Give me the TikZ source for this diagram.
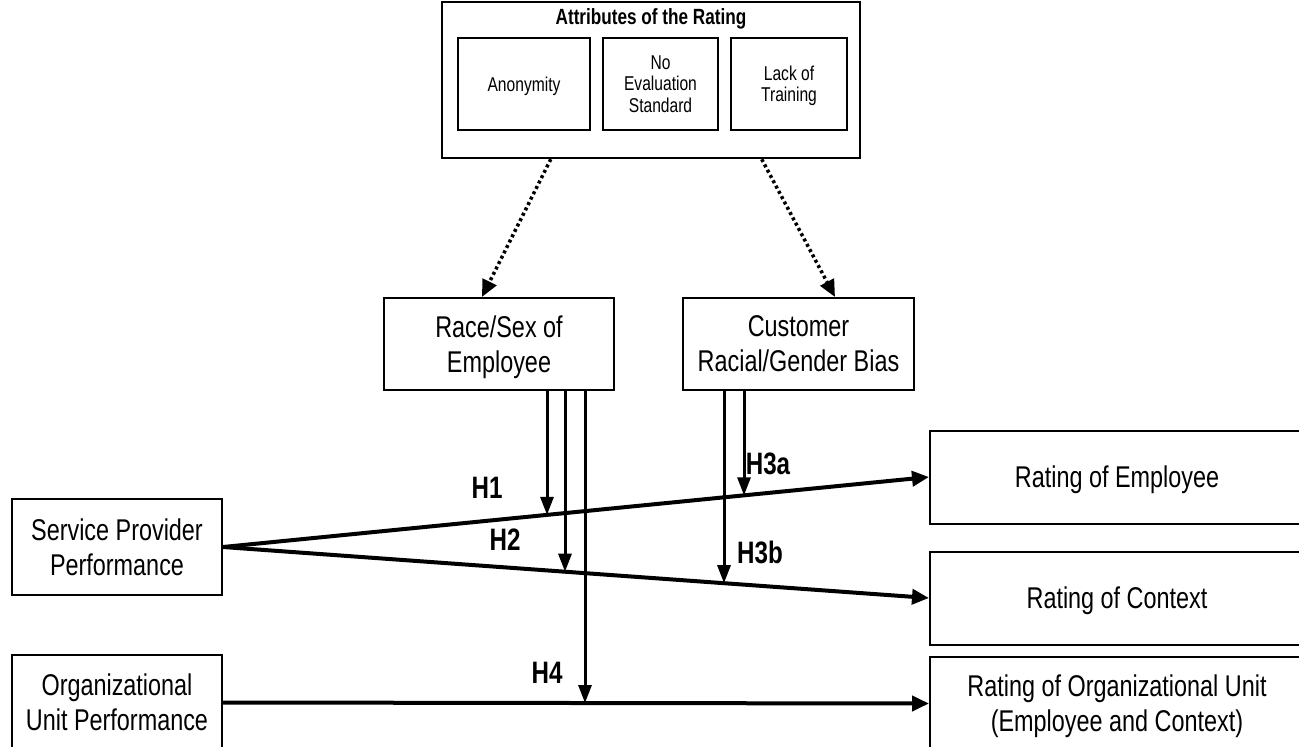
\documentclass[tikz,border=0pt]{standalone}
\usepackage{fontspec}
\setmainfont{Liberation Sans}[FakeStretch=0.78]
\usetikzlibrary{arrows.meta,intersections}
\begin{document}
\begin{tikzpicture}[x=1pt,y=-1pt,
  box/.style={draw,line width=2pt,inner sep=0pt,align=center,text depth=0pt,font=\fontsize{30}{35}\selectfont},
  ibox/.style={draw,line width=2pt,inner sep=0pt,align=center,text depth=0pt,font=\fontsize{20}{21.5}\selectfont,minimum height=92pt},
  conn/.style={line width=4pt,-{Triangle[length=17pt,width=15pt]}},
  varrow/.style={line width=3pt,-{Triangle[length=18pt,width=13pt]}},
  darrow/.style={line width=3.5pt,dash pattern=on 3pt off 3pt,-{Triangle[length=17pt,width=15pt]}},
  hlab/.style={font=\fontsize{31}{34}\selectfont\bfseries,inner sep=0pt}]
\useasboundingbox (0,0) rectangle (1299,747);
% top box
\node[draw,line width=2.5pt,minimum width=418pt,minimum height=156pt,inner sep=0pt] (top) at (651,80) {};
\node[font=\fontsize{22}{24}\selectfont\bfseries,inner sep=0pt] (title) at (651,19) {Attributes of the Rating};
\node[ibox,minimum width=132pt] (an) at (524,84) {Anonymity};
\node[ibox,minimum width=115pt] (ne) at (660.5,84) {No\\Evaluation\\Standard};
\node[ibox,minimum width=116pt] (lt) at (789,84) {Lack of\\Training};
% middle boxes
\node[box,minimum width=230pt,minimum height=92pt] (rs) at (499,344) {Race/Sex of\\Employee};
\node[box,minimum width=231pt,minimum height=92pt] (cb) at (798.5,344) {Customer\\Racial/Gender Bias};
% left boxes
\node[box,minimum width=210pt,minimum height=96pt] (sp) at (117,547) {Service Provider\\Performance};
\node[box,minimum width=210pt,minimum height=95pt] (ou) at (117,702.5) {Organizational\\Unit Performance};
% right boxes
\node[box,minimum width=374pt,minimum height=93pt] (re) at (1117,477) {Rating of Employee};
\node[box,minimum width=374pt,minimum height=93pt] (rc) at (1117,598) {Rating of Context};
\node[box,minimum width=374pt,minimum height=93pt] (ro) at (1117,703.5) {Rating of Organizational Unit\\(Employee and Context)};
% dotted arrows
\draw[darrow] ([xshift=110pt]top.south west) -- ([xshift=99pt]rs.north west);
\draw[darrow] ([xshift=321pt]top.south west) -- ([xshift=153pt]cb.north west);
% main connectors
\draw[conn,name path=l1] (sp.east) -- (re.west);
\draw[conn,name path=l2] (sp.east) -- (rc.west);
\draw[conn,name path=l3] (ou.east) -- (ro.west);
% vertical arrows
\path[name path=v1] ([xshift=164pt]rs.south west) -- ++(0,500);
\path[name path=v2] ([xshift=182pt]rs.south west) -- ++(0,500);
\path[name path=v3] ([xshift=202pt]rs.south west) -- ++(0,500);
\path[name path=v4] ([xshift=62pt]cb.south west) -- ++(0,500);
\path[name path=v5] ([xshift=42pt]cb.south west) -- ++(0,500);
\draw[varrow,name intersections={of=v1 and l1,by=i1}] ([xshift=164pt]rs.south west) -- (i1);
\draw[varrow,name intersections={of=v2 and l2,by=i2}] ([xshift=182pt]rs.south west) -- (i2);
\draw[varrow,name intersections={of=v3 and l3,by=i3}] ([xshift=202pt]rs.south west) -- (i3);
\draw[varrow,name intersections={of=v4 and l1,by=i4}] ([xshift=62pt]cb.south west) -- (i4);
\draw[varrow,name intersections={of=v5 and l2,by=i5}] ([xshift=42pt]cb.south west) -- (i5);
% labels
\node[hlab] (h1) at (487,488) {H1};
\node[hlab] (h2) at (505,540) {H2};
\node[hlab] (h3a) at (768,464) {H3a};
\node[hlab] (h3b) at (760,552) {H3b};
\node[hlab] (h4) at (547,673) {H4};
\end{tikzpicture}
\end{document}
